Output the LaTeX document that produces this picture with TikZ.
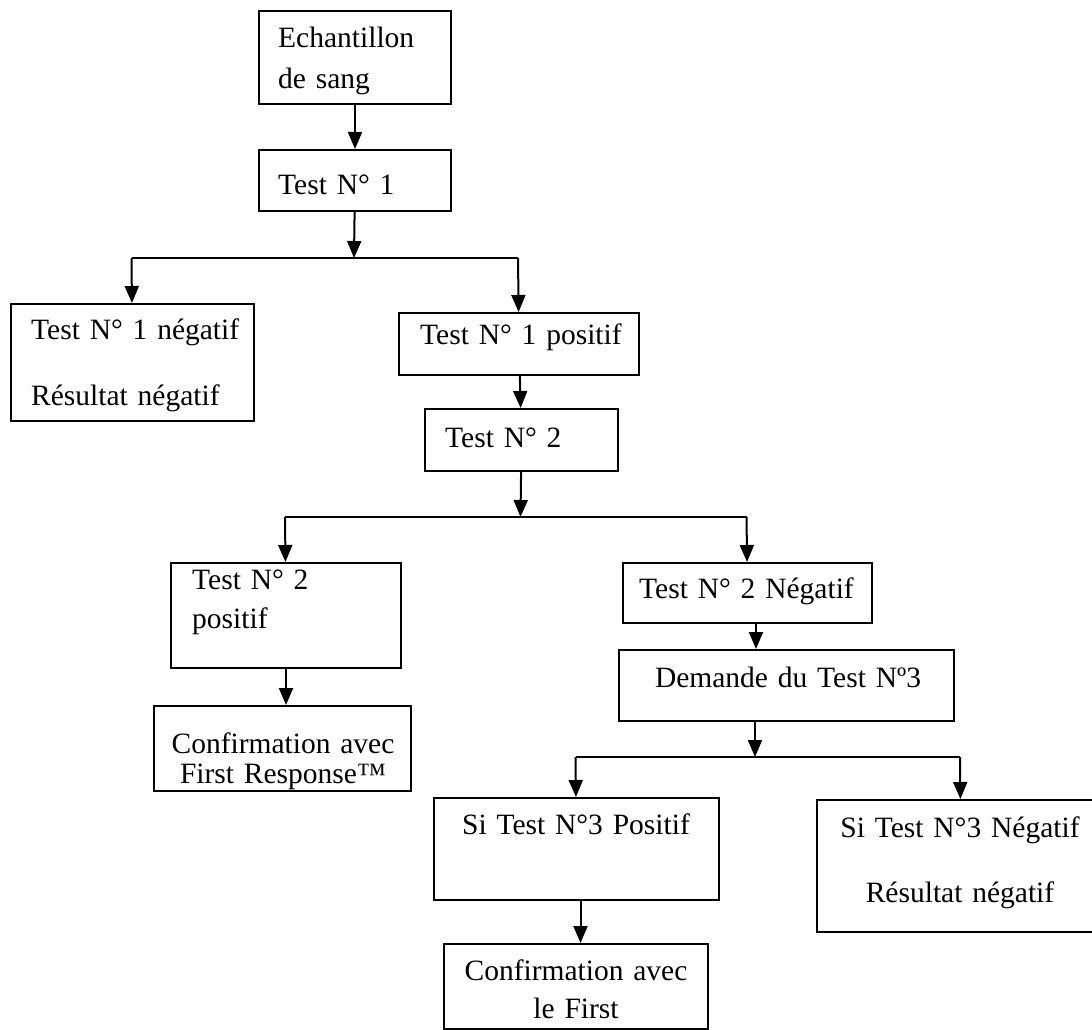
\documentclass[tikz,border=0pt]{standalone}
\usepackage{fontspec}
\setmainfont{Liberation Serif}
\usetikzlibrary{arrows.meta}

\tikzset{
  box/.style={draw,line width=2pt,inner sep=0pt,anchor=north west},
  txt/.style={inner sep=0pt,text width=290,font=\fontsize{29.5}{35}\selectfont},
  lft/.style={txt,align=left,anchor=base west},
  ctr/.style={txt,align=center,anchor=base},
  arr/.style={-{Triangle[length=17pt,width=14pt]},line width=2pt},
  bar/.style={line width=2pt},
}

\begin{document}
\begin{tikzpicture}[x=1pt,y=-1pt]
  \useasboundingbox (0,0) rectangle (1092,1030);
  % boxes
  \node[box,minimum width=192,minimum height=93] (echo) at (258,10) {};
  \node[box,minimum width=192,minimum height=61] (test1) at (258,149) {};
  \node[box,minimum width=243,minimum height=117] (neg1) at (10,303) {};
  \node[box,minimum width=240,minimum height=62] (pos1) at (398,312) {};
  \node[box,minimum width=193,minimum height=62] (test2) at (424,408) {};
  \node[box,minimum width=230,minimum height=105] (pos2) at (170,562) {};
  \node[box,minimum width=249,minimum height=60] (neg2) at (622,562) {};
  \node[box,minimum width=257,minimum height=85] (conf1) at (153,705) {};
  \node[box,minimum width=335,minimum height=71] (demande) at (618,649) {};
  \node[box,minimum width=285,minimum height=102] (sipos) at (433,797) {};
  \node[box,minimum width=288,minimum height=132] (sineg) at (816,799) {};
  \node[box,minimum width=264,minimum height=85] (conf2) at (443,943) {};
  % texts
  \node[lft,font=\fontsize{29.5}{41}\selectfont] (echo-t) at (278,48) {Echantillon\\de sang};
  \node[lft] (test1-t) at (278,194) {Test N° 1};
  \node[lft,font=\fontsize{29.5}{66}\selectfont] (neg1-t) at (31,339) {Test N° 1 négatif\\Résultat négatif};
  \node[lft] (pos1-t) at (420,344) {Test N° 1 positif};
  \node[lft] (test2-t) at (445,447) {Test N° 2};
  \node[lft,font=\fontsize{29.5}{39}\selectfont] (pos2-t) at (192,589) {Test N° 2\\positif};
  \node[ctr] (neg2-t) at (746.5,598) {Test N° 2 Négatif};
  \node[ctr] (demande-t) at (788,687) {Demande du Test Nº3};
  \node[ctr,font=\fontsize{29.5}{30}\selectfont] (conf1-t) at (283,753) {Confirmation avec\\First Response™};
  \node[ctr] (sipos-t) at (576,834) {Si Test N°3 Positif};
  \node[ctr,font=\fontsize{29.5}{65}\selectfont] (sineg-t) at (960,837) {Si Test N°3 Négatif\\Résultat négatif};
  \node[ctr,font=\fontsize{29.5}{38}\selectfont] (conf2-t) at (576,980) {Confirmation avec\\le First};
  % split points
  \coordinate (s1) at (354,258);
  \coordinate (s1l) at (131.5,258);
  \coordinate (s1r) at (518,258);
  \coordinate (s2) at (520.5,517);
  \coordinate (s2l) at (285,517);
  \coordinate (s2r) at (746.5,517);
  \coordinate (s3) at (755,757);
  \coordinate (s3l) at (575.5,757);
  \coordinate (s3r) at (960,757);
  % connectors
  \draw[arr] (echo) -- (test1);
  \draw[arr] (test1) -- (s1);
  \draw[bar] (s1l) -- (s1r);
  \draw[arr] (s1l) -- (neg1);
  \draw[arr] (s1r) -- (pos1);
  \draw[arr] (pos1) -- (test2);
  \draw[arr] (test2) -- (s2);
  \draw[bar] (s2l) -- (s2r);
  \draw[arr] (s2l) -- (pos2);
  \draw[arr] (s2r) -- (neg2);
  \draw[arr] (pos2) -- (pos2 |- conf1.north);
  \draw[arr] ([xshift=8.5]neg2.south) -- ([xshift=8.5]neg2.south |- demande.north);
  \draw[arr] (demande.south -| s3) -- (s3);
  \draw[bar] (s3l) -- (s3r);
  \draw[arr] (s3l) -- (sipos);
  \draw[arr] (s3r) -- (sineg);
  \draw[arr] ([xshift=4]sipos.south) -- ([xshift=4]sipos.south |- conf2.north);
\end{tikzpicture}
\end{document}
